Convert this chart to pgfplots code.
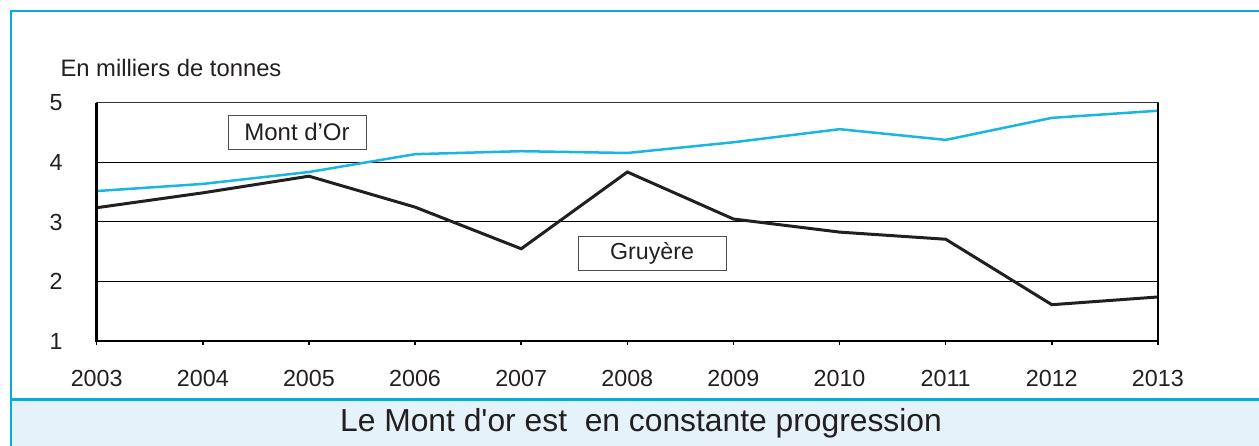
\documentclass[border=0pt]{standalone}
\usepackage{pgfplots}
\pgfplotsset{compat=1.18}
\usepackage{fontspec}
\setmainfont{Liberation Sans}
\definecolor{framecyan}{HTML}{00AEDB}
\definecolor{montdor}{HTML}{1AB6E2}
\definecolor{bandfill}{HTML}{E6F2F9}
\definecolor{txt}{HTML}{231F20}
\begin{document}
\begin{tikzpicture}[x=1pt,y=1pt]
\path[use as bounding box] (0,0) rectangle (1259,446);
% bottom band
\fill[bandfill] (11,0) rectangle (1259,46);
\draw[framecyan,line width=3pt] (11,46) -- (1259,46);
% frame
\draw[framecyan,line width=2pt] (11,0) -- (11,435) -- (1259,435);
\node[anchor=west,text=txt,font=\fontsize{23.8}{27}\selectfont] at (57,378) {En milliers de tonnes};
\node[text=txt,font=\fontsize{31.8}{36}\selectfont] at (641,23) {Le Mont d\textquotesingle or est\ \ en constante progression};
\begin{axis}[
  at={(96.7pt,105pt)}, anchor=south west,
  width=1061.3pt, height=238pt, scale only axis,
  xmin=2003, xmax=2013, ymin=1, ymax=5,
  xtick={2003,...,2013}, ytick={1,2,3,4,5},
  xtick pos=lower,
  xticklabel style={/pgf/number format/1000 sep={}},
  /pgf/number format/assume math mode=true,
  tick label style={font=\fontsize{23.3}{27}\selectfont, text=txt, inner sep=0pt},
  xticklabel style={anchor=north, yshift=-25pt},
  yticklabel style={anchor=east, xshift=-30pt},
  ymajorgrids, grid style={black, line width=1pt},
  axis line style={draw=black!80, line width=1pt},
  ytick style={draw=none},
  xtick style={black, line width=1.5pt},
  tick align=outside, major tick length=4pt,
  clip=false,
]
\addplot[montdor, line width=2.5pt] coordinates {
(2003,3.52) (2004,3.64) (2005,3.84) (2006,4.14) (2007,4.19) (2008,4.16)
(2009,4.34) (2010,4.56) (2011,4.38) (2012,4.75) (2013,4.87)};
\addplot[txt, line width=3pt] coordinates {
(2003,3.24) (2004,3.49) (2005,3.77) (2006,3.25) (2007,2.55) (2008,3.84)
(2009,3.05) (2010,2.83) (2011,2.71) (2012,1.61) (2013,1.74)};
\draw[black, line width=2.5pt] (rel axis cs:0,1) -- (rel axis cs:0,0) -- (rel axis cs:1,0) -- (rel axis cs:1,1);
\end{axis}
\node[draw=black!70, line width=0.8pt, fill=white, minimum width=138pt, minimum height=34pt, inner sep=0pt, text=txt, font=\fontsize{24}{27}\selectfont] at (297,314) {Mont d’Or};
\node[draw=black!70, line width=0.8pt, fill=white, minimum width=148pt, minimum height=34pt, inner sep=0pt, text=txt, font=\fontsize{23.2}{26}\selectfont] at (652,193) {Gruyère};
\end{tikzpicture}
\end{document}
